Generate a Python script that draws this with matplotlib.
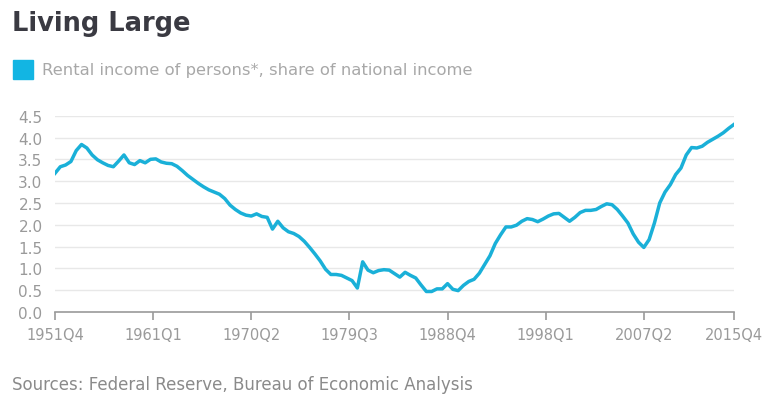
import matplotlib
matplotlib.use("Agg")
import matplotlib.pyplot as plt
from matplotlib.patches import Rectangle

plt.rcParams['font.family'] = ['DejaVu Sans']

# semi-annual readings (Q4 and Q2) of the series, 1951Q4 .. 2015Q4
start_year, start_q = 1951, 4
values = [
    3.18, 3.33, 3.37, 3.45, 3.70, 3.84, 3.76, 3.60, 3.49, 3.42,
    3.36, 3.33, 3.46, 3.60, 3.42, 3.38, 3.47, 3.42, 3.50, 3.51,
    3.44, 3.41, 3.40, 3.34, 3.24, 3.13, 3.04, 2.95, 2.87, 2.80,
    2.75, 2.70, 2.60, 2.45, 2.35, 2.27, 2.22, 2.20, 2.25, 2.19,
    2.17, 1.90, 2.08, 1.93, 1.84, 1.80, 1.73, 1.62, 1.48, 1.33,
    1.17, 0.98, 0.86, 0.86, 0.84, 0.78, 0.72, 0.55, 1.15, 0.96,
    0.90, 0.95, 0.97, 0.96, 0.88, 0.80, 0.91, 0.84, 0.78, 0.62,
    0.47, 0.47, 0.53, 0.53, 0.65, 0.52, 0.49, 0.61, 0.70, 0.75,
    0.89, 1.09, 1.29, 1.57, 1.77, 1.95, 1.95, 1.99, 2.08, 2.14,
    2.12, 2.07, 2.13, 2.20, 2.25, 2.26, 2.17, 2.08, 2.17, 2.28,
    2.33, 2.33, 2.35, 2.42, 2.48, 2.46, 2.35, 2.20, 2.04, 1.79,
    1.60, 1.48, 1.66, 2.04, 2.50, 2.75, 2.92, 3.15, 3.30, 3.60,
    3.77, 3.76, 3.80, 3.89, 3.96, 4.03, 4.11, 4.21, 4.30,
]
tick_labels = ['1951Q4', '1961Q1', '1970Q2', '1979Q3', '1988Q4',
               '1998Q1', '2007Q2', '2015Q4']
y_ticks = [0.0, 0.5, 1.0, 1.5, 2.0, 2.5, 3.0, 3.5, 4.0, 4.5]

title = 'Living Large'
legend_text = 'Rental income of persons*, share of national income'
source_text = 'Sources: Federal Reserve, Bureau of Economic Analysis'

line_color = '#1ab0d8'


def q_index(label):
    y, q = int(label[:4]), int(label[-1])
    return (y * 4 + q) - (start_year * 4 + start_q)


x = [2 * i for i in range(len(values))]

fig = plt.figure(figsize=(7.68, 4.02), dpi=100)
ax = fig.add_axes([55 / 768, 1 - 313 / 402, (734 - 55) / 768, (313 - 116.7) / 402])

ax.plot(x, values, color=line_color, lw=2.5, solid_joinstyle='round', zorder=3)

ax.set_xlim(0, q_index('2015Q4'))
ax.set_ylim(0, 4.5)
ax.set_yticks(y_ticks)
ax.set_yticklabels([f'{v:.1f}' for v in y_ticks])
ax.set_xticks([q_index(t) for t in tick_labels])
ax.set_xticklabels(tick_labels)

ax.grid(axis='y', color='#e8e8e8', lw=1)
ax.set_axisbelow(True)
for s in ['top', 'right', 'left']:
    ax.spines[s].set_visible(False)
ax.spines['bottom'].set_color('#9a9a9a')
ax.spines['bottom'].set_linewidth(1.2)
ax.tick_params(axis='y', length=0, pad=9, labelsize=11, labelcolor='#9a9a9a')
ax.tick_params(axis='x', length=6, width=1.2, color='#9a9a9a', pad=5,
               labelsize=10.5, labelcolor='#9a9a9a')

fig.text(12 / 768, 1 - 24 / 402, title, fontsize=18.5, fontweight='bold',
         color='#3a3a42', va='center', ha='left')
fig.patches.append(Rectangle((13 / 768, 1 - 80 / 402), 20 / 768, 19 / 402,
                             transform=fig.transFigure, color='#12b5e3',
                             figure=fig))
fig.text(42 / 768, 1 - 70 / 402, legend_text, fontsize=11.8,
         color='#a8a8a8', va='center', ha='left')
fig.text(12 / 768, 1 - 385 / 402, source_text, fontsize=12,
         color='#8a8a8a', va='center', ha='left')

fig.savefig('out.png', dpi=100)
